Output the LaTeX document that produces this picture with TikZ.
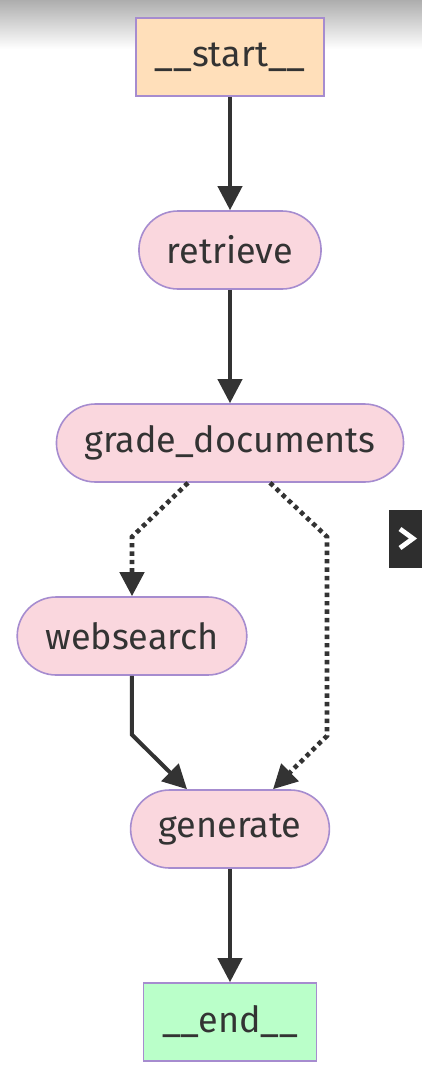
\documentclass[tikz,border=0pt]{standalone}
\usepackage{fontspec}
\setmainfont{Fira Sans}
\usepackage{xcolor}
\usepackage{tikz}
\usetikzlibrary{arrows.meta}
\definecolor{startfill}{HTML}{FFDFBA}
\definecolor{endfill}{HTML}{BAFFC9}
\definecolor{stepfill}{HTML}{FAD7DE}
\definecolor{boxline}{HTML}{A68CCF}
\definecolor{inkgray}{HTML}{333333}

\begin{document}
\begin{tikzpicture}[->,>={Triangle[length=12pt,width=12pt]},
                    node distance=96.5pt,line width=2pt,draw=inkgray]
\tikzstyle{every node}=[font=\fontsize{18}{21}\selectfont,text=inkgray]
\tikzstyle{terminal}=[draw=boxline,line width=0.8pt,minimum height=39pt]
\tikzstyle{pill}=[draw=boxline,fill=stepfill,line width=0.8pt,minimum height=39pt,
                  inner xsep=14pt,rounded corners=19.5pt]
\tikzstyle{optional}=[line width=2.3pt,dash pattern=on 2.2pt off 2pt]
\useasboundingbox (-115pt,28.5pt) rectangle (96pt,-507.5pt);
\shade[-,top color=black!32,bottom color=white] (-115pt,28.5pt) rectangle (96pt,4pt);

\node[terminal,fill=startfill,minimum width=94pt] (START) {\_\_start\_\_};
\node[pill] (RETRIEVE) [below of=START] {retrieve};
\node[pill] (GRADE) [below of=RETRIEVE] {grade\_documents};
\node[pill] (WEB) [below of=GRADE,xshift=-49pt] {websearch};
\node[pill] (GEN) [below of=GRADE,node distance=193pt] {generate};
\node[terminal,fill=endfill,minimum width=86.5pt] (END) [below of=GEN] {\_\_end\_\_};

\path (START) edge (RETRIEVE)
      (RETRIEVE) edge (GRADE)
      (GEN) edge (END);
\draw[optional] ([xshift=-21pt]GRADE.south) -- ++(-28pt,-27pt) -- (WEB.north);
\draw[optional] ([xshift=20pt]GRADE.south) -- ++(28.5pt,-27pt) -- ++(0,-99.5pt)
      -- ([xshift=21.5pt]GEN.north);
\draw (WEB.south) -- ++(0,-29.5pt) -- ([xshift=-21.5pt]GEN.north);

% side button
\fill[-,black!82] (79.5pt,-226.5pt) rectangle (96pt,-255.5pt);
\draw[-,white,line width=2.4pt] (85pt,-236pt) -- (91.5pt,-240.75pt) -- (85pt,-245.5pt);
\end{tikzpicture}
\end{document}
